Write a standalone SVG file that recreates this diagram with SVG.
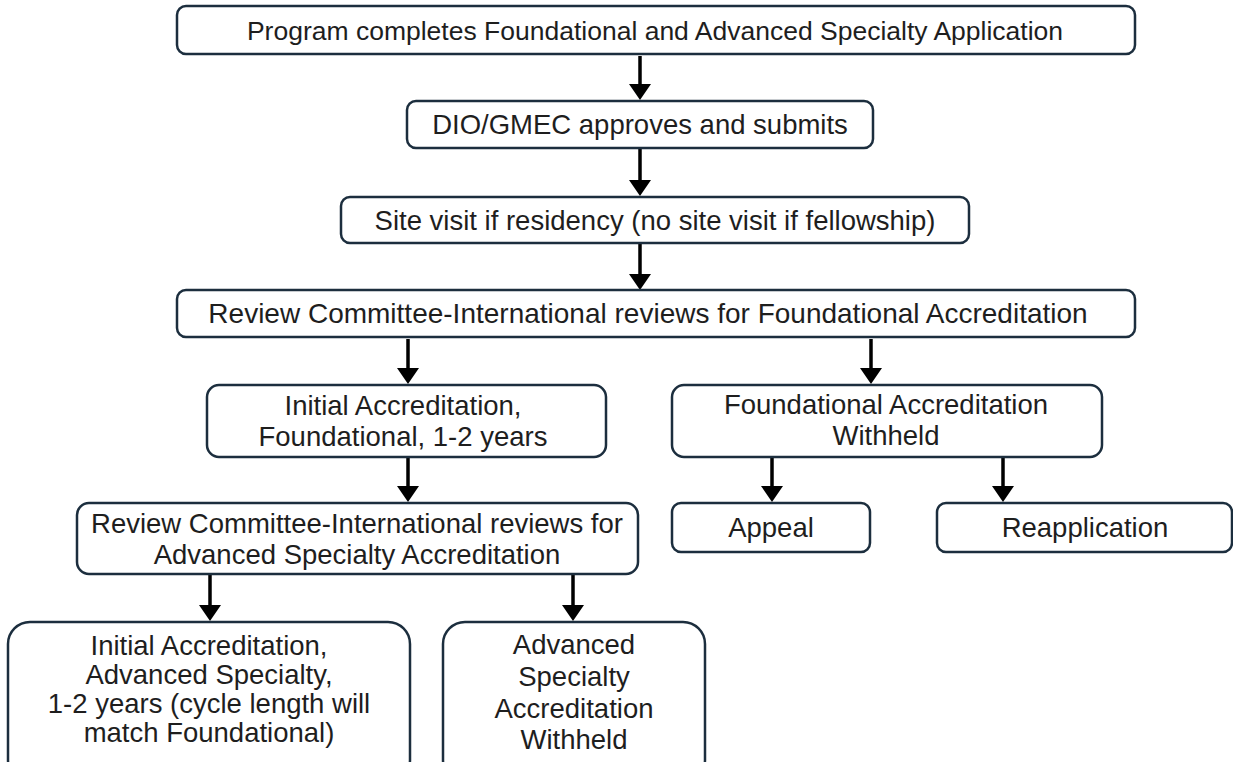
<svg xmlns="http://www.w3.org/2000/svg" width="1233" height="762" viewBox="0 0 1233 762">
<style>
.box{fill:#ffffff;stroke:#1c2e3e;stroke-width:2.5}
.t{font-family:"Liberation Sans",Arial,sans-serif;font-size:27.5px;fill:#1e1e1e;text-anchor:middle}
.c{stroke:#000000;stroke-width:3.5;fill:none;marker-end:url(#ah)}
</style>
<defs>
<marker id="ah" markerUnits="userSpaceOnUse" viewBox="0 0 16 22" markerWidth="16" markerHeight="22" refX="6" refY="11" orient="auto">
<path d="M0,0 L16,11 L0,22 Z" fill="#000000"/>
</marker>
</defs>
<rect width="1233" height="762" fill="#ffffff"/>
<g id="connectors">
<line class="c" x1="640" y1="56" x2="640" y2="90"/>
<line class="c" x1="640" y1="149" x2="640" y2="186"/>
<line class="c" x1="640" y1="244" x2="640" y2="280"/>
<line class="c" x1="408" y1="339" x2="408" y2="374"/>
<line class="c" x1="871" y1="339" x2="871" y2="374"/>
<line class="c" x1="408" y1="458" x2="408" y2="492"/>
<line class="c" x1="772" y1="458" x2="772" y2="492"/>
<line class="c" x1="1003" y1="458" x2="1003" y2="492"/>
<line class="c" x1="210" y1="575" x2="210" y2="611"/>
<line class="c" x1="573" y1="575" x2="573" y2="611"/>
</g>
<g id="n1">
<rect class="box" x="177" y="6" width="958" height="48" rx="9"/>
<text class="t" x="655" y="40" style="font-size:26.5px">Program completes Foundational and Advanced Specialty Application</text>
</g>
<g id="n2">
<rect class="box" x="407" y="101" width="466" height="47" rx="9"/>
<text class="t" x="640" y="134">DIO/GMEC approves and submits</text>
</g>
<g id="n3">
<rect class="box" x="341" y="197" width="628" height="46" rx="9"/>
<text class="t" x="655" y="230">Site visit if residency (no site visit if fellowship)</text>
</g>
<g id="n4">
<rect class="box" x="177" y="290" width="958" height="47" rx="9"/>
<text class="t" x="648" y="323" style="font-size:28px">Review Committee-International reviews for Foundational Accreditation</text>
</g>
<g id="n5">
<rect class="box" x="207" y="385" width="399" height="72" rx="12"/>
<text class="t" x="403" y="415">Initial Accreditation,</text>
<text class="t" x="403" y="446">Foundational, 1-2 years</text>
</g>
<g id="n6">
<rect class="box" x="672" y="385" width="430" height="72" rx="12"/>
<text class="t" x="886" y="414">Foundational Accreditation</text>
<text class="t" x="886" y="445">Withheld</text>
</g>
<g id="n7">
<rect class="box" x="672" y="503" width="198" height="49" rx="9"/>
<text class="t" x="771" y="537">Appeal</text>
</g>
<g id="n8">
<rect class="box" x="937" y="503" width="295" height="49" rx="9"/>
<text class="t" x="1085" y="537">Reapplication</text>
</g>
<g id="n9">
<rect class="box" x="77" y="503" width="561" height="71" rx="12"/>
<text class="t" x="357" y="533">Review Committee-International reviews for</text>
<text class="t" x="357" y="564">Advanced Specialty Accreditation</text>
</g>
<g id="n10">
<rect class="box" x="8" y="622" width="402" height="160" rx="22"/>
<text class="t" x="209" y="655">Initial Accreditation,</text>
<text class="t" x="209" y="684">Advanced Specialty,</text>
<text class="t" x="209" y="713">1-2 years (cycle length will</text>
<text class="t" x="209" y="742">match Foundational)</text>
</g>
<g id="n11">
<rect class="box" x="443" y="622" width="262" height="160" rx="22"/>
<text class="t" x="574" y="654">Advanced</text>
<text class="t" x="574" y="686">Specialty</text>
<text class="t" x="574" y="718">Accreditation</text>
<text class="t" x="574" y="749">Withheld</text>
</g>
</svg>
